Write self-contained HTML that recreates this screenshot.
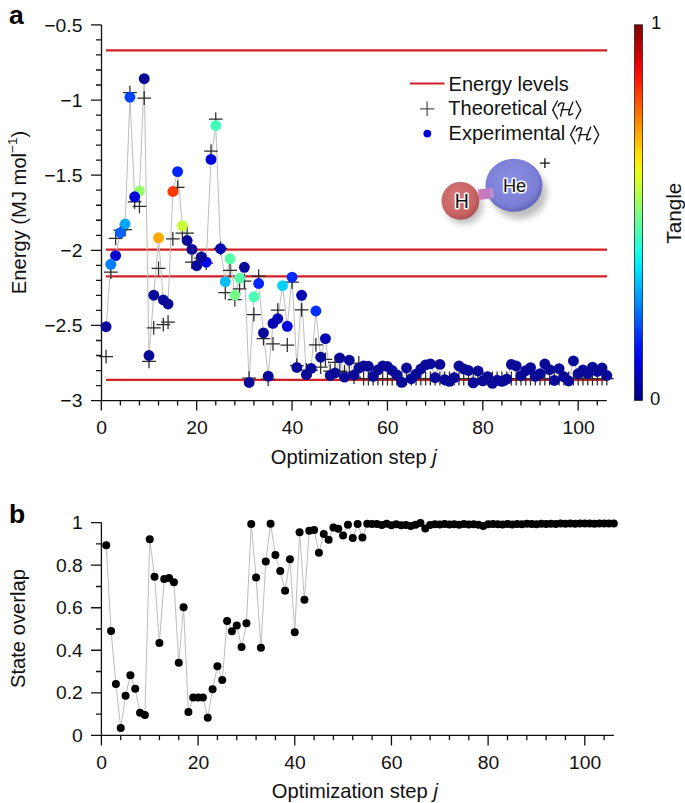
<!DOCTYPE html><html><head><meta charset="utf-8"><style>html,body{margin:0;padding:0;background:#fff;}svg{display:block;}text{font-family:"Liberation Sans",sans-serif;}</style></head><body>
<svg width="685" height="803" viewBox="0 0 685 803">
<defs><linearGradient id="jet" x1="0" y1="1" x2="0" y2="0">
<stop offset="0.000" stop-color="#000080"/>
<stop offset="0.050" stop-color="#0000b2"/>
<stop offset="0.100" stop-color="#0000e6"/>
<stop offset="0.150" stop-color="#0019ff"/>
<stop offset="0.200" stop-color="#004dff"/>
<stop offset="0.250" stop-color="#0080ff"/>
<stop offset="0.300" stop-color="#00b2ff"/>
<stop offset="0.350" stop-color="#00e5ff"/>
<stop offset="0.400" stop-color="#1affe5"/>
<stop offset="0.450" stop-color="#4dffb2"/>
<stop offset="0.500" stop-color="#80ff80"/>
<stop offset="0.550" stop-color="#b3ff4c"/>
<stop offset="0.600" stop-color="#e5ff1a"/>
<stop offset="0.650" stop-color="#ffe500"/>
<stop offset="0.700" stop-color="#ffb300"/>
<stop offset="0.750" stop-color="#ff8000"/>
<stop offset="0.800" stop-color="#ff4c00"/>
<stop offset="0.850" stop-color="#ff1a00"/>
<stop offset="0.900" stop-color="#e50000"/>
<stop offset="0.950" stop-color="#b30000"/>
<stop offset="1.000" stop-color="#800000"/>
</linearGradient>
<radialGradient id="gHe" cx="0.45" cy="0.42" r="0.62"><stop offset="0" stop-color="#8e92e6"/><stop offset="0.75" stop-color="#7a7ed4"/><stop offset="1" stop-color="#5a5cae"/></radialGradient>
<radialGradient id="gH" cx="0.42" cy="0.4" r="0.65"><stop offset="0" stop-color="#d87a7a"/><stop offset="0.7" stop-color="#c86464"/><stop offset="1" stop-color="#a84c4c"/></radialGradient><linearGradient id="gB" x1="0" y1="0" x2="1" y2="0"><stop offset="0" stop-color="#d07cb4"/><stop offset="1" stop-color="#b478c8"/></linearGradient>
<filter id="sh" x="-30%" y="-30%" width="160%" height="160%"><feGaussianBlur stdDeviation="3"/></filter>
</defs>
<text x="9" y="24.4" font-size="26.5" font-weight="bold" fill="#000">a</text>
<text x="9" y="523.3" font-size="26.5" font-weight="bold" fill="#000">b</text>
<path d="M101.5 24.9V401.2 M91 400.6H606.7 M91 24.90H101.5 M96 39.93H101.5 M96 54.96H101.5 M96 69.98H101.5 M96 85.01H101.5 M91 100.04H101.5 M96 115.07H101.5 M96 130.10H101.5 M96 145.12H101.5 M96 160.15H101.5 M91 175.18H101.5 M96 190.21H101.5 M96 205.24H101.5 M96 220.26H101.5 M96 235.29H101.5 M91 250.32H101.5 M96 265.35H101.5 M96 280.38H101.5 M96 295.40H101.5 M96 310.43H101.5 M91 325.46H101.5 M96 340.49H101.5 M96 355.52H101.5 M96 370.54H101.5 M96 385.57H101.5 M91 400.60H101.5 M101.30 400.6V410.6 M120.38 400.6V405.6 M139.45 400.6V405.6 M158.53 400.6V405.6 M177.60 400.6V405.6 M196.68 400.6V410.6 M215.76 400.6V405.6 M234.83 400.6V405.6 M253.91 400.6V405.6 M272.98 400.6V405.6 M292.06 400.6V410.6 M311.14 400.6V405.6 M330.21 400.6V405.6 M349.29 400.6V405.6 M368.36 400.6V405.6 M387.44 400.6V410.6 M406.52 400.6V405.6 M425.59 400.6V405.6 M444.67 400.6V405.6 M463.74 400.6V405.6 M482.82 400.6V410.6 M501.90 400.6V405.6 M520.97 400.6V405.6 M540.05 400.6V405.6 M559.12 400.6V405.6 M578.20 400.6V410.6 M597.28 400.6V405.6" stroke="#111" stroke-width="1.3" fill="none"/>
<text transform="translate(82.4,31.5) scale(1.045,1)" text-anchor="end" font-size="18.5" fill="#111">−0.5</text>
<text transform="translate(82.4,106.6) scale(1.045,1)" text-anchor="end" font-size="18.5" fill="#111">−1</text>
<text transform="translate(82.4,181.8) scale(1.045,1)" text-anchor="end" font-size="18.5" fill="#111">−1.5</text>
<text transform="translate(82.4,256.9) scale(1.045,1)" text-anchor="end" font-size="18.5" fill="#111">−2</text>
<text transform="translate(82.4,332.1) scale(1.045,1)" text-anchor="end" font-size="18.5" fill="#111">−2.5</text>
<text transform="translate(82.4,407.2) scale(1.045,1)" text-anchor="end" font-size="18.5" fill="#111">−3</text>
<text transform="translate(101.6,433.8) scale(1.045,1)" text-anchor="middle" font-size="18.5" fill="#111">0</text>
<text transform="translate(197.0,433.8) scale(1.045,1)" text-anchor="middle" font-size="18.5" fill="#111">20</text>
<text transform="translate(292.4,433.8) scale(1.045,1)" text-anchor="middle" font-size="18.5" fill="#111">40</text>
<text transform="translate(387.7,433.8) scale(1.045,1)" text-anchor="middle" font-size="18.5" fill="#111">60</text>
<text transform="translate(483.1,433.8) scale(1.045,1)" text-anchor="middle" font-size="18.5" fill="#111">80</text>
<text transform="translate(578.5,433.8) scale(1.045,1)" text-anchor="middle" font-size="18.5" fill="#111">100</text>
<text x="353.8" y="463.5" text-anchor="middle" font-size="20.2" fill="#111">Optimization step <tspan font-style="italic">j</tspan></text>
<text transform="translate(25.8,212.5) rotate(-90)" text-anchor="middle" font-size="20.2" fill="#111">Energy (MJ mol<tspan dy="-8.6" font-size="13.5">−1</tspan><tspan dy="8.6">)</tspan></text>
<line x1="106" y1="50.30" x2="607" y2="50.30" stroke="#d02026" stroke-width="2.2"/>
<line x1="106" y1="249.70" x2="607" y2="249.70" stroke="#d02026" stroke-width="2.2"/>
<line x1="106" y1="276.40" x2="607" y2="276.40" stroke="#d02026" stroke-width="2.2"/>
<line x1="106" y1="379.80" x2="607" y2="379.80" stroke="#d02026" stroke-width="2.2"/>
<polyline points="106.07,326.70 110.84,264.30 115.61,255.60 120.38,232.60 125.14,224.00 129.91,97.20 134.68,196.80 139.45,190.90 144.22,78.70 148.99,355.50 153.76,295.20 158.53,237.80 163.30,299.90 168.07,304.00 172.83,191.50 177.60,171.60 182.37,225.80 187.14,240.50 191.91,249.40 196.68,265.70 201.45,256.90 206.22,262.20 210.99,159.40 215.76,125.50 220.53,248.70 225.29,281.60 230.06,258.80 234.83,295.10 239.60,278.20 244.37,267.30 249.14,382.50 253.91,296.80 258.68,283.50 263.45,332.90 268.21,376.20 272.98,323.40 277.75,318.70 282.52,285.60 287.29,326.30 292.06,277.10 296.83,367.40 301.60,295.30 306.37,374.60 311.14,368.40 315.91,311.00 320.67,357.20 325.44,338.60 330.21,375.40 334.98,373.00 339.75,358.00 344.52,377.10 349.29,360.20 354.06,375.00 358.83,368.10 363.60,366.00 368.36,366.30 373.13,376.30 377.90,370.00 382.67,366.00 387.44,366.50 392.21,370.50 396.98,375.00 401.75,382.30 406.52,368.00 411.29,378.70 416.05,374.10 420.82,369.00 425.59,364.90 430.36,363.90 435.13,377.70 439.90,364.40 444.67,379.70 449.44,381.30 454.21,377.70 458.98,366.00 463.74,369.00 468.51,370.50 473.28,382.80 478.05,371.00 482.82,380.80 487.59,376.70 492.36,383.30 497.13,380.30 501.90,381.30 506.67,379.20 511.43,364.40 516.20,366.00 520.97,375.70 525.74,370.70 530.51,367.60 535.28,376.30 540.05,373.70 544.82,364.00 549.59,369.60 554.36,380.40 559.12,368.60 563.89,376.80 568.66,381.00 573.43,360.90 578.20,373.70 582.97,370.00 587.74,373.30 592.51,367.20 597.28,371.50 602.04,368.00 606.81,375.50" fill="none" stroke="#bdbdbd" stroke-width="1"/>
<path d="M99.17 356.60h13.8M106.07 349.70v13.8M103.94 272.10h13.8M110.84 265.20v13.8M108.71 238.30h13.8M115.61 231.40v13.8M113.48 230.10h13.8M120.38 223.20v13.8M118.24 229.60h13.8M125.14 222.70v13.8M123.01 92.70h13.8M129.91 85.80v13.8M127.78 201.80h13.8M134.68 194.90v13.8M132.55 206.40h13.8M139.45 199.50v13.8M137.32 98.20h13.8M144.22 91.30v13.8M142.09 361.40h13.8M148.99 354.50v13.8M146.86 327.80h13.8M153.76 320.90v13.8M151.63 268.30h13.8M158.53 261.40v13.8M156.40 324.70h13.8M163.30 317.80v13.8M161.17 322.20h13.8M168.07 315.30v13.8M165.93 238.80h13.8M172.83 231.90v13.8M170.70 187.40h13.8M177.60 180.50v13.8M175.47 233.20h13.8M182.37 226.30v13.8M180.24 233.20h13.8M187.14 226.30v13.8M185.01 262.00h13.8M191.91 255.10v13.8M189.78 262.00h13.8M196.68 255.10v13.8M194.55 258.00h13.8M201.45 251.10v13.8M199.32 263.20h13.8M206.22 256.30v13.8M204.09 151.20h13.8M210.99 144.30v13.8M208.86 119.20h13.8M215.76 112.30v13.8M213.62 248.30h13.8M220.53 241.40v13.8M218.39 292.70h13.8M225.29 285.80v13.8M223.16 270.40h13.8M230.06 263.50v13.8M227.93 299.60h13.8M234.83 292.70v13.8M232.70 288.90h13.8M239.60 282.00v13.8M237.47 281.00h13.8M244.37 274.10v13.8M242.24 378.20h13.8M249.14 371.30v13.8M247.01 314.50h13.8M253.91 307.60v13.8M251.78 276.20h13.8M258.68 269.30v13.8M256.55 338.50h13.8M263.45 331.60v13.8M261.31 379.00h13.8M268.21 372.10v13.8M266.08 343.90h13.8M272.98 337.00v13.8M270.85 310.10h13.8M277.75 303.20v13.8M280.39 345.00h13.8M287.29 338.10v13.8M285.16 282.20h13.8M292.06 275.30v13.8M289.93 365.50h13.8M296.83 358.60v13.8M294.70 309.80h13.8M301.60 302.90v13.8M299.47 370.00h13.8M306.37 363.10v13.8M304.24 370.00h13.8M311.14 363.10v13.8M309.01 344.80h13.8M315.91 337.90v13.8M313.77 367.00h13.8M320.67 360.10v13.8M318.54 359.30h13.8M325.44 352.40v13.8M323.31 371.00h13.8M330.21 364.10v13.8M328.08 362.40h13.8M334.98 355.50v13.8M332.85 371.00h13.8M339.75 364.10v13.8M337.62 372.00h13.8M344.52 365.10v13.8M342.39 372.00h13.8M349.29 365.10v13.8M347.16 377.00h13.8M354.06 370.10v13.8M351.93 363.00h13.8M358.83 356.10v13.8M356.70 378.50h13.8M363.60 371.60v13.8M361.46 378.50h13.8M368.36 371.60v13.8M366.23 378.50h13.8M373.13 371.60v13.8M371.00 378.50h13.8M377.90 371.60v13.8M375.77 378.50h13.8M382.67 371.60v13.8M380.54 378.50h13.8M387.44 371.60v13.8M385.31 378.50h13.8M392.21 371.60v13.8M390.08 378.50h13.8M396.98 371.60v13.8M394.85 378.50h13.8M401.75 371.60v13.8M399.62 378.50h13.8M406.52 371.60v13.8M404.39 378.50h13.8M411.29 371.60v13.8M409.15 378.50h13.8M416.05 371.60v13.8M413.92 378.50h13.8M420.82 371.60v13.8M418.69 378.50h13.8M425.59 371.60v13.8M423.46 378.50h13.8M430.36 371.60v13.8M428.23 378.50h13.8M435.13 371.60v13.8M433.00 378.50h13.8M439.90 371.60v13.8M437.77 378.50h13.8M444.67 371.60v13.8M442.54 378.50h13.8M449.44 371.60v13.8M447.31 378.50h13.8M454.21 371.60v13.8M452.08 378.50h13.8M458.98 371.60v13.8M456.84 378.50h13.8M463.74 371.60v13.8M461.61 378.50h13.8M468.51 371.60v13.8M466.38 378.50h13.8M473.28 371.60v13.8M471.15 378.50h13.8M478.05 371.60v13.8M475.92 378.50h13.8M482.82 371.60v13.8M480.69 378.50h13.8M487.59 371.60v13.8M485.46 378.50h13.8M492.36 371.60v13.8M490.23 378.50h13.8M497.13 371.60v13.8M495.00 378.50h13.8M501.90 371.60v13.8M499.77 378.50h13.8M506.67 371.60v13.8M504.53 378.50h13.8M511.43 371.60v13.8M509.30 378.50h13.8M516.20 371.60v13.8M514.07 378.50h13.8M520.97 371.60v13.8M518.84 378.50h13.8M525.74 371.60v13.8M523.61 378.50h13.8M530.51 371.60v13.8M528.38 378.50h13.8M535.28 371.60v13.8M533.15 378.50h13.8M540.05 371.60v13.8M537.92 378.50h13.8M544.82 371.60v13.8M542.69 378.50h13.8M549.59 371.60v13.8M547.46 378.50h13.8M554.36 371.60v13.8M552.22 378.50h13.8M559.12 371.60v13.8M556.99 378.50h13.8M563.89 371.60v13.8M561.76 378.50h13.8M568.66 371.60v13.8M566.53 378.50h13.8M573.43 371.60v13.8M571.30 378.50h13.8M578.20 371.60v13.8M576.07 378.50h13.8M582.97 371.60v13.8M580.84 378.50h13.8M587.74 371.60v13.8M585.61 378.50h13.8M592.51 371.60v13.8M590.38 378.50h13.8M597.28 371.60v13.8M595.14 378.50h13.8M602.04 371.60v13.8M599.91 378.50h13.8M606.81 371.60v13.8" stroke="#2a2a2a" stroke-width="1.25" fill="none"/>
<circle cx="606.81" cy="375.50" r="5.45" fill="#0a0a98"/>
<circle cx="602.04" cy="368.00" r="5.45" fill="#0a0a98"/>
<circle cx="597.28" cy="371.50" r="5.45" fill="#0a0a98"/>
<circle cx="592.51" cy="367.20" r="5.45" fill="#0a0a98"/>
<circle cx="587.74" cy="373.30" r="5.45" fill="#0a0a98"/>
<circle cx="582.97" cy="370.00" r="5.45" fill="#0a0a98"/>
<circle cx="578.20" cy="373.70" r="5.45" fill="#0a0a98"/>
<circle cx="573.43" cy="360.90" r="5.45" fill="#0a0a98"/>
<circle cx="568.66" cy="381.00" r="5.45" fill="#0a0a98"/>
<circle cx="563.89" cy="376.80" r="5.45" fill="#0a0a98"/>
<circle cx="559.12" cy="368.60" r="5.45" fill="#0a0a98"/>
<circle cx="554.36" cy="380.40" r="5.45" fill="#0a0a98"/>
<circle cx="549.59" cy="369.60" r="5.45" fill="#0a0a98"/>
<circle cx="544.82" cy="364.00" r="5.45" fill="#0a0a98"/>
<circle cx="540.05" cy="373.70" r="5.45" fill="#0a0a98"/>
<circle cx="535.28" cy="376.30" r="5.45" fill="#0a0a98"/>
<circle cx="530.51" cy="367.60" r="5.45" fill="#0a0a98"/>
<circle cx="525.74" cy="370.70" r="5.45" fill="#0a0a98"/>
<circle cx="520.97" cy="375.70" r="5.45" fill="#0a0a98"/>
<circle cx="516.20" cy="366.00" r="5.45" fill="#0a0a98"/>
<circle cx="511.43" cy="364.40" r="5.45" fill="#0a0a98"/>
<circle cx="506.67" cy="379.20" r="5.45" fill="#0a0a98"/>
<circle cx="501.90" cy="381.30" r="5.45" fill="#0a0a98"/>
<circle cx="497.13" cy="380.30" r="5.45" fill="#0a0a98"/>
<circle cx="492.36" cy="383.30" r="5.45" fill="#0a0a98"/>
<circle cx="487.59" cy="376.70" r="5.45" fill="#0a0a98"/>
<circle cx="482.82" cy="380.80" r="5.45" fill="#0a0a98"/>
<circle cx="478.05" cy="371.00" r="5.45" fill="#0a0a98"/>
<circle cx="473.28" cy="382.80" r="5.45" fill="#0a0a98"/>
<circle cx="468.51" cy="370.50" r="5.45" fill="#0a0a98"/>
<circle cx="463.74" cy="369.00" r="5.45" fill="#0a0a98"/>
<circle cx="458.98" cy="366.00" r="5.45" fill="#0a0a98"/>
<circle cx="454.21" cy="377.70" r="5.45" fill="#0a0a98"/>
<circle cx="449.44" cy="381.30" r="5.45" fill="#0a0a98"/>
<circle cx="444.67" cy="379.70" r="5.45" fill="#0a0a98"/>
<circle cx="439.90" cy="364.40" r="5.45" fill="#0a0a98"/>
<circle cx="435.13" cy="377.70" r="5.45" fill="#0a0a98"/>
<circle cx="430.36" cy="363.90" r="5.45" fill="#0a0a98"/>
<circle cx="425.59" cy="364.90" r="5.45" fill="#0a0a98"/>
<circle cx="420.82" cy="369.00" r="5.45" fill="#0a0a98"/>
<circle cx="416.05" cy="374.10" r="5.45" fill="#0a0a98"/>
<circle cx="411.29" cy="378.70" r="5.45" fill="#0a0a98"/>
<circle cx="406.52" cy="368.00" r="5.45" fill="#0a0a98"/>
<circle cx="401.75" cy="382.30" r="5.45" fill="#0a0a98"/>
<circle cx="396.98" cy="375.00" r="5.45" fill="#0a0a98"/>
<circle cx="392.21" cy="370.50" r="5.45" fill="#0a0a98"/>
<circle cx="387.44" cy="366.50" r="5.45" fill="#0a0a98"/>
<circle cx="382.67" cy="366.00" r="5.45" fill="#0a0a98"/>
<circle cx="377.90" cy="370.00" r="5.45" fill="#0a0a98"/>
<circle cx="373.13" cy="376.30" r="5.45" fill="#0a0a98"/>
<circle cx="368.36" cy="366.30" r="5.45" fill="#0a0a98"/>
<circle cx="363.60" cy="366.00" r="5.45" fill="#0a0a98"/>
<circle cx="358.83" cy="368.10" r="5.45" fill="#0a0a98"/>
<circle cx="354.06" cy="375.00" r="5.45" fill="#0a0a98"/>
<circle cx="349.29" cy="360.20" r="5.45" fill="#0a0a98"/>
<circle cx="344.52" cy="377.10" r="5.45" fill="#0a0a98"/>
<circle cx="339.75" cy="358.00" r="5.45" fill="#0a0a98"/>
<circle cx="334.98" cy="373.00" r="5.45" fill="#0a0a98"/>
<circle cx="330.21" cy="375.40" r="5.45" fill="#0a0a98"/>
<circle cx="325.44" cy="338.60" r="5.45" fill="#0000b2"/>
<circle cx="320.67" cy="357.20" r="5.45" fill="#0a0a98"/>
<circle cx="315.91" cy="311.00" r="5.45" fill="#002eff"/>
<circle cx="311.14" cy="368.40" r="5.45" fill="#0a0a98"/>
<circle cx="306.37" cy="374.60" r="5.45" fill="#0a0a98"/>
<circle cx="301.60" cy="295.30" r="5.45" fill="#0000b2"/>
<circle cx="296.83" cy="367.40" r="5.45" fill="#0a0a98"/>
<circle cx="292.06" cy="277.10" r="5.45" fill="#002eff"/>
<circle cx="287.29" cy="326.30" r="5.45" fill="#0000db"/>
<circle cx="282.52" cy="285.60" r="5.45" fill="#00d1ff"/>
<circle cx="277.75" cy="318.70" r="5.45" fill="#0000bd"/>
<circle cx="272.98" cy="323.40" r="5.45" fill="#0000b2"/>
<circle cx="268.21" cy="376.20" r="5.45" fill="#0a0a98"/>
<circle cx="263.45" cy="332.90" r="5.45" fill="#0a0a98"/>
<circle cx="258.68" cy="283.50" r="5.45" fill="#0024ff"/>
<circle cx="253.91" cy="296.80" r="5.45" fill="#4dffb2"/>
<circle cx="249.14" cy="382.50" r="5.45" fill="#0a0a98"/>
<circle cx="244.37" cy="267.30" r="5.45" fill="#0a0a98"/>
<circle cx="239.60" cy="278.20" r="5.45" fill="#57ffa8"/>
<circle cx="234.83" cy="295.10" r="5.45" fill="#75ff8a"/>
<circle cx="230.06" cy="258.80" r="5.45" fill="#57ffa8"/>
<circle cx="225.29" cy="281.60" r="5.45" fill="#00bdff"/>
<circle cx="220.53" cy="248.70" r="5.45" fill="#0000b2"/>
<circle cx="215.76" cy="125.50" r="5.45" fill="#42ffbd"/>
<circle cx="210.99" cy="159.40" r="5.45" fill="#0000db"/>
<circle cx="206.22" cy="262.20" r="5.45" fill="#0000f0"/>
<circle cx="201.45" cy="256.90" r="5.45" fill="#0a0a98"/>
<circle cx="196.68" cy="265.70" r="5.45" fill="#0a0a98"/>
<circle cx="191.91" cy="249.40" r="5.45" fill="#0a0a98"/>
<circle cx="187.14" cy="240.50" r="5.45" fill="#0a0a98"/>
<circle cx="182.37" cy="225.80" r="5.45" fill="#c7ff38"/>
<circle cx="177.60" cy="171.60" r="5.45" fill="#0024ff"/>
<circle cx="172.83" cy="191.50" r="5.45" fill="#ff3800"/>
<circle cx="168.07" cy="304.00" r="5.45" fill="#0a0a98"/>
<circle cx="163.30" cy="299.90" r="5.45" fill="#0a0a98"/>
<circle cx="158.53" cy="237.80" r="5.45" fill="#ffa800"/>
<circle cx="153.76" cy="295.20" r="5.45" fill="#0a0a98"/>
<circle cx="148.99" cy="355.50" r="5.45" fill="#0a0a98"/>
<circle cx="144.22" cy="78.70" r="5.45" fill="#0a0a98"/>
<circle cx="139.45" cy="190.90" r="5.45" fill="#94ff6b"/>
<circle cx="134.68" cy="196.80" r="5.45" fill="#0000db"/>
<circle cx="129.91" cy="97.20" r="5.45" fill="#0042ff"/>
<circle cx="125.14" cy="224.00" r="5.45" fill="#00a8ff"/>
<circle cx="120.38" cy="232.60" r="5.45" fill="#0061ff"/>
<circle cx="115.61" cy="255.60" r="5.45" fill="#0000d1"/>
<circle cx="110.84" cy="264.30" r="5.45" fill="#0080ff"/>
<circle cx="106.07" cy="326.70" r="5.45" fill="#0a0a98"/>
<line x1="410" y1="83.5" x2="444.5" y2="83.5" stroke="#d02026" stroke-width="2.2"/>
<path d="M420 108.8H434.3M427.15 101.6V116" stroke="#555" stroke-width="1.3"/>
<circle cx="427.3" cy="133.6" r="3.9" fill="#0000d8"/>
<text x="448.6" y="90.5" font-size="20" fill="#111">Energy levels</text>
<text x="448.3" y="115.4" font-size="20" fill="#111">Theoretical</text>
<text x="448.6" y="140.2" font-size="20" fill="#111">Experimental</text>
<path d="M557.4 101L552.7 109.9L557.4 118.8M576.1 101L580.8 109.9L576.1 118.8M558.2 106C558.8 103.4 562 102 563.9 103.4C563 107 561.6 112 560.6 116M561.1 109.9L569.6 109.4M572.8 102.2C571 106 569.5 110 568.7 113.5C568.3 115.5 570.5 115.3 572.8 113.7" stroke="#111" stroke-width="1.35" fill="none" stroke-linecap="round"/>
<path d="M557.4 101L552.7 109.9L557.4 118.8M576.1 101L580.8 109.9L576.1 118.8M558.2 106C558.8 103.4 562 102 563.9 103.4C563 107 561.6 112 560.6 116M561.1 109.9L569.6 109.4M572.8 102.2C571 106 569.5 110 568.7 113.5C568.3 115.5 570.5 115.3 572.8 113.7" transform="translate(17.9,24.9)" stroke="#111" stroke-width="1.35" fill="none" stroke-linecap="round"/>
<rect x="634.5" y="24.8" width="8" height="375.6" fill="url(#jet)" stroke="#222" stroke-width="0.8"/>
<text x="651" y="29" font-size="18.5" fill="#111">1</text>
<text x="650" y="404.8" font-size="18.5" fill="#111">0</text>
<text transform="translate(680.6,213.2) rotate(-90)" text-anchor="middle" font-size="20.7" fill="#111">Tangle</text>
<ellipse cx="519" cy="193" rx="28" ry="26" fill="#000" opacity="0.25" filter="url(#sh)"/>
<ellipse cx="464" cy="206" rx="19" ry="18" fill="#000" opacity="0.25" filter="url(#sh)"/>
<ellipse cx="513.9" cy="185.3" rx="28.5" ry="26.5" fill="url(#gHe)"/>
<path d="M478 189.4 L491 187.7 L492.6 198.2 L479.5 200 Z" fill="url(#gB)"/>
<ellipse cx="491.6" cy="193" rx="2" ry="5.2" transform="rotate(-8 491.6 193)" fill="#c48ed4"/>
<circle cx="460.4" cy="200.8" r="18.9" fill="url(#gH)"/>
<text x="461.7" y="207.9" text-anchor="middle" font-size="19.5" fill="#111" stroke="#fff" stroke-width="3" paint-order="stroke" stroke-linejoin="round">H</text>
<text x="514.6" y="192.1" text-anchor="middle" font-size="18.3" fill="#111" stroke="#fff" stroke-width="3" paint-order="stroke" stroke-linejoin="round">He</text>
<path d="M540 163.1H549.8M544.9 158.3V167.9" stroke="#111" stroke-width="1.3"/>
<path d="M101.4 522.4V745.4 M91 735.3H613.9 M91 735.30H101.4 M96 714.04H101.4 M91 692.78H101.4 M96 671.52H101.4 M91 650.26H101.4 M96 629.00H101.4 M91 607.74H101.4 M96 586.48H101.4 M91 565.22H101.4 M96 543.96H101.4 M91 522.70H101.4 M120.74 735.3V740.3 M140.07 735.3V740.3 M159.41 735.3V740.3 M178.74 735.3V740.3 M198.08 735.3V745.4 M217.42 735.3V740.3 M236.75 735.3V740.3 M256.09 735.3V740.3 M275.42 735.3V740.3 M294.76 735.3V745.4 M314.10 735.3V740.3 M333.43 735.3V740.3 M352.77 735.3V740.3 M372.10 735.3V740.3 M391.44 735.3V745.4 M410.78 735.3V740.3 M430.11 735.3V740.3 M449.45 735.3V740.3 M468.78 735.3V740.3 M488.12 735.3V745.4 M507.46 735.3V740.3 M526.79 735.3V740.3 M546.13 735.3V740.3 M565.46 735.3V740.3 M584.80 735.3V745.4 M604.14 735.3V740.3" stroke="#111" stroke-width="1.3" fill="none"/>
<text transform="translate(82.8,741.9) scale(1.045,1)" text-anchor="end" font-size="18.5" fill="#111">0</text>
<text transform="translate(82.8,699.4) scale(1.045,1)" text-anchor="end" font-size="18.5" fill="#111">0.2</text>
<text transform="translate(82.8,656.9) scale(1.045,1)" text-anchor="end" font-size="18.5" fill="#111">0.4</text>
<text transform="translate(82.8,614.3) scale(1.045,1)" text-anchor="end" font-size="18.5" fill="#111">0.6</text>
<text transform="translate(82.8,571.8) scale(1.045,1)" text-anchor="end" font-size="18.5" fill="#111">0.8</text>
<text transform="translate(82.8,529.3) scale(1.045,1)" text-anchor="end" font-size="18.5" fill="#111">1</text>
<text transform="translate(101.7,768.5) scale(1.045,1)" text-anchor="middle" font-size="18.5" fill="#111">0</text>
<text transform="translate(198.4,768.5) scale(1.045,1)" text-anchor="middle" font-size="18.5" fill="#111">20</text>
<text transform="translate(295.1,768.5) scale(1.045,1)" text-anchor="middle" font-size="18.5" fill="#111">40</text>
<text transform="translate(391.7,768.5) scale(1.045,1)" text-anchor="middle" font-size="18.5" fill="#111">60</text>
<text transform="translate(488.4,768.5) scale(1.045,1)" text-anchor="middle" font-size="18.5" fill="#111">80</text>
<text transform="translate(585.1,768.5) scale(1.045,1)" text-anchor="middle" font-size="18.5" fill="#111">100</text>
<text x="354.9" y="798.2" text-anchor="middle" font-size="20.2" fill="#111">Optimization step <tspan font-style="italic">j</tspan></text>
<text transform="translate(25.1,628.6) rotate(-90)" text-anchor="middle" font-size="20.2" fill="#111">State overlap</text>
<polyline points="106.23,545.30 111.07,631.00 115.90,684.10 120.74,727.90 125.57,695.80 130.40,675.20 135.24,688.80 140.07,712.80 144.91,714.90 149.74,539.20 154.57,576.70 159.41,642.90 164.24,578.90 169.08,578.10 173.91,582.20 178.74,662.80 183.58,607.30 188.41,711.90 193.25,697.50 198.08,697.50 202.91,697.50 207.75,717.70 212.58,689.20 217.42,666.30 222.25,680.00 227.08,621.00 231.92,631.20 236.75,625.50 241.59,647.00 246.42,623.30 251.25,524.10 256.09,577.40 260.92,647.70 265.76,561.40 270.59,523.70 275.42,554.90 280.26,571.00 285.09,590.80 289.93,559.30 294.76,632.20 299.59,532.20 304.43,599.80 309.26,530.80 314.10,530.00 318.93,552.80 323.76,534.10 328.60,539.80 333.43,527.50 338.27,528.80 343.10,535.40 347.93,524.70 352.77,538.00 357.60,524.00 362.44,537.40 367.27,523.80 372.10,524.00 376.94,524.10 381.77,524.90 386.61,523.80 391.44,525.30 396.27,524.30 401.11,525.30 405.94,525.10 410.78,526.00 415.61,524.80 420.44,523.00 425.28,528.40 430.11,525.00 434.95,524.20 439.78,524.50 444.61,524.00 449.45,524.60 454.28,524.20 459.12,524.80 463.95,524.00 468.78,524.50 473.62,524.30 478.45,524.80 483.29,526.00 488.12,524.20 492.95,524.00 497.79,524.30 502.62,524.60 507.46,524.00 512.29,524.50 517.12,524.00 521.96,524.30 526.79,523.80 531.63,524.00 536.46,524.30 541.29,523.80 546.13,524.00 550.96,523.70 555.80,524.00 560.63,523.60 565.46,523.80 570.30,523.60 575.13,523.80 579.97,523.50 584.80,523.60 589.63,523.50 594.47,523.70 599.30,523.50 604.14,523.60 608.97,523.50 613.80,523.50" fill="none" stroke="#bdbdbd" stroke-width="1"/>
<circle cx="613.80" cy="523.50" r="4" fill="#000"/>
<circle cx="608.97" cy="523.50" r="4" fill="#000"/>
<circle cx="604.14" cy="523.60" r="4" fill="#000"/>
<circle cx="599.30" cy="523.50" r="4" fill="#000"/>
<circle cx="594.47" cy="523.70" r="4" fill="#000"/>
<circle cx="589.63" cy="523.50" r="4" fill="#000"/>
<circle cx="584.80" cy="523.60" r="4" fill="#000"/>
<circle cx="579.97" cy="523.50" r="4" fill="#000"/>
<circle cx="575.13" cy="523.80" r="4" fill="#000"/>
<circle cx="570.30" cy="523.60" r="4" fill="#000"/>
<circle cx="565.46" cy="523.80" r="4" fill="#000"/>
<circle cx="560.63" cy="523.60" r="4" fill="#000"/>
<circle cx="555.80" cy="524.00" r="4" fill="#000"/>
<circle cx="550.96" cy="523.70" r="4" fill="#000"/>
<circle cx="546.13" cy="524.00" r="4" fill="#000"/>
<circle cx="541.29" cy="523.80" r="4" fill="#000"/>
<circle cx="536.46" cy="524.30" r="4" fill="#000"/>
<circle cx="531.63" cy="524.00" r="4" fill="#000"/>
<circle cx="526.79" cy="523.80" r="4" fill="#000"/>
<circle cx="521.96" cy="524.30" r="4" fill="#000"/>
<circle cx="517.12" cy="524.00" r="4" fill="#000"/>
<circle cx="512.29" cy="524.50" r="4" fill="#000"/>
<circle cx="507.46" cy="524.00" r="4" fill="#000"/>
<circle cx="502.62" cy="524.60" r="4" fill="#000"/>
<circle cx="497.79" cy="524.30" r="4" fill="#000"/>
<circle cx="492.95" cy="524.00" r="4" fill="#000"/>
<circle cx="488.12" cy="524.20" r="4" fill="#000"/>
<circle cx="483.29" cy="526.00" r="4" fill="#000"/>
<circle cx="478.45" cy="524.80" r="4" fill="#000"/>
<circle cx="473.62" cy="524.30" r="4" fill="#000"/>
<circle cx="468.78" cy="524.50" r="4" fill="#000"/>
<circle cx="463.95" cy="524.00" r="4" fill="#000"/>
<circle cx="459.12" cy="524.80" r="4" fill="#000"/>
<circle cx="454.28" cy="524.20" r="4" fill="#000"/>
<circle cx="449.45" cy="524.60" r="4" fill="#000"/>
<circle cx="444.61" cy="524.00" r="4" fill="#000"/>
<circle cx="439.78" cy="524.50" r="4" fill="#000"/>
<circle cx="434.95" cy="524.20" r="4" fill="#000"/>
<circle cx="430.11" cy="525.00" r="4" fill="#000"/>
<circle cx="425.28" cy="528.40" r="4" fill="#000"/>
<circle cx="420.44" cy="523.00" r="4" fill="#000"/>
<circle cx="415.61" cy="524.80" r="4" fill="#000"/>
<circle cx="410.78" cy="526.00" r="4" fill="#000"/>
<circle cx="405.94" cy="525.10" r="4" fill="#000"/>
<circle cx="401.11" cy="525.30" r="4" fill="#000"/>
<circle cx="396.27" cy="524.30" r="4" fill="#000"/>
<circle cx="391.44" cy="525.30" r="4" fill="#000"/>
<circle cx="386.61" cy="523.80" r="4" fill="#000"/>
<circle cx="381.77" cy="524.90" r="4" fill="#000"/>
<circle cx="376.94" cy="524.10" r="4" fill="#000"/>
<circle cx="372.10" cy="524.00" r="4" fill="#000"/>
<circle cx="367.27" cy="523.80" r="4" fill="#000"/>
<circle cx="362.44" cy="537.40" r="4" fill="#000"/>
<circle cx="357.60" cy="524.00" r="4" fill="#000"/>
<circle cx="352.77" cy="538.00" r="4" fill="#000"/>
<circle cx="347.93" cy="524.70" r="4" fill="#000"/>
<circle cx="343.10" cy="535.40" r="4" fill="#000"/>
<circle cx="338.27" cy="528.80" r="4" fill="#000"/>
<circle cx="333.43" cy="527.50" r="4" fill="#000"/>
<circle cx="328.60" cy="539.80" r="4" fill="#000"/>
<circle cx="323.76" cy="534.10" r="4" fill="#000"/>
<circle cx="318.93" cy="552.80" r="4" fill="#000"/>
<circle cx="314.10" cy="530.00" r="4" fill="#000"/>
<circle cx="309.26" cy="530.80" r="4" fill="#000"/>
<circle cx="304.43" cy="599.80" r="4" fill="#000"/>
<circle cx="299.59" cy="532.20" r="4" fill="#000"/>
<circle cx="294.76" cy="632.20" r="4" fill="#000"/>
<circle cx="289.93" cy="559.30" r="4" fill="#000"/>
<circle cx="285.09" cy="590.80" r="4" fill="#000"/>
<circle cx="280.26" cy="571.00" r="4" fill="#000"/>
<circle cx="275.42" cy="554.90" r="4" fill="#000"/>
<circle cx="270.59" cy="523.70" r="4" fill="#000"/>
<circle cx="265.76" cy="561.40" r="4" fill="#000"/>
<circle cx="260.92" cy="647.70" r="4" fill="#000"/>
<circle cx="256.09" cy="577.40" r="4" fill="#000"/>
<circle cx="251.25" cy="524.10" r="4" fill="#000"/>
<circle cx="246.42" cy="623.30" r="4" fill="#000"/>
<circle cx="241.59" cy="647.00" r="4" fill="#000"/>
<circle cx="236.75" cy="625.50" r="4" fill="#000"/>
<circle cx="231.92" cy="631.20" r="4" fill="#000"/>
<circle cx="227.08" cy="621.00" r="4" fill="#000"/>
<circle cx="222.25" cy="680.00" r="4" fill="#000"/>
<circle cx="217.42" cy="666.30" r="4" fill="#000"/>
<circle cx="212.58" cy="689.20" r="4" fill="#000"/>
<circle cx="207.75" cy="717.70" r="4" fill="#000"/>
<circle cx="202.91" cy="697.50" r="4" fill="#000"/>
<circle cx="198.08" cy="697.50" r="4" fill="#000"/>
<circle cx="193.25" cy="697.50" r="4" fill="#000"/>
<circle cx="188.41" cy="711.90" r="4" fill="#000"/>
<circle cx="183.58" cy="607.30" r="4" fill="#000"/>
<circle cx="178.74" cy="662.80" r="4" fill="#000"/>
<circle cx="173.91" cy="582.20" r="4" fill="#000"/>
<circle cx="169.08" cy="578.10" r="4" fill="#000"/>
<circle cx="164.24" cy="578.90" r="4" fill="#000"/>
<circle cx="159.41" cy="642.90" r="4" fill="#000"/>
<circle cx="154.57" cy="576.70" r="4" fill="#000"/>
<circle cx="149.74" cy="539.20" r="4" fill="#000"/>
<circle cx="144.91" cy="714.90" r="4" fill="#000"/>
<circle cx="140.07" cy="712.80" r="4" fill="#000"/>
<circle cx="135.24" cy="688.80" r="4" fill="#000"/>
<circle cx="130.40" cy="675.20" r="4" fill="#000"/>
<circle cx="125.57" cy="695.80" r="4" fill="#000"/>
<circle cx="120.74" cy="727.90" r="4" fill="#000"/>
<circle cx="115.90" cy="684.10" r="4" fill="#000"/>
<circle cx="111.07" cy="631.00" r="4" fill="#000"/>
<circle cx="106.23" cy="545.30" r="4" fill="#000"/>
</svg></body></html>
